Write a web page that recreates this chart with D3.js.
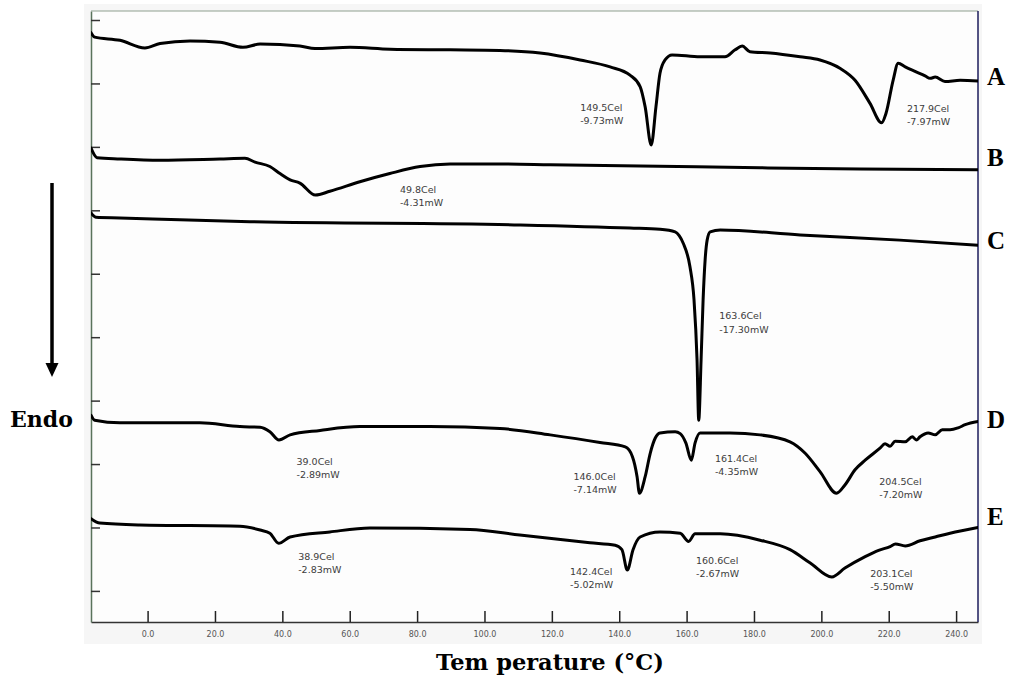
<!DOCTYPE html>
<html><head><meta charset="utf-8">
<script src="https://cdn.jsdelivr.net/npm/d3@7"></script>
<style>body{margin:0;background:#fff}svg{display:block}</style>
</head><body>
<svg id="chart" width="1010" height="679"></svg>
<script>
// Temperature (°C) vs heat flow (one unit = one y-axis division, endo down)
const seriesNames = ["A","B","C","D","E"];
const curveA = [[-16.8,-0.20],[-15.7,-0.27],[-8.2,-0.32],[-0.8,-0.44],[3.7,-0.37],[12.6,-0.33],[21.5,-0.35],[28.3,-0.43],[33.4,-0.38],[45.2,-0.41],[49.7,-0.45],[60.1,-0.43],[72.0,-0.46],[89.8,-0.47],[104.6,-0.48],[116.5,-0.52],[128.4,-0.63],[137.3,-0.74],[143.2,-0.87],[146.2,-1.05],[147.7,-1.37],[149.5,-1.97],[150.9,-1.37],[152.1,-0.84],[153.6,-0.63],[155.7,-0.55],[164.0,-0.58],[171.4,-0.58],[174.4,-0.47],[176.5,-0.41],[178.8,-0.50],[184.8,-0.52],[193.7,-0.58],[199.6,-0.63],[205.5,-0.76],[210.0,-0.95],[214.4,-1.31],[217.9,-1.62],[219.2,-1.47],[221.3,-0.95],[222.8,-0.68],[224.9,-0.74],[227.8,-0.81],[230.8,-0.88],[232.3,-0.92],[233.8,-0.90],[236.7,-0.97],[241.2,-0.95],[246.5,-0.96]];
const curveB = [[-16.8,-2.02],[-15.0,-2.17],[-8.2,-2.19],[3.7,-2.21],[21.5,-2.19],[28.9,-2.18],[31.9,-2.24],[36.3,-2.31],[39.3,-2.42],[42.3,-2.52],[45.2,-2.57],[49.8,-2.76],[54.1,-2.70],[63.0,-2.55],[71.9,-2.42],[80.9,-2.31],[89.8,-2.27],[104.6,-2.27],[119.5,-2.28],[146.2,-2.30],[181.8,-2.33],[211.5,-2.35],[246.5,-2.36]];
const curveC = [[-16.8,-3.04],[-15.3,-3.11],[-8.2,-3.12],[9.6,-3.15],[30.4,-3.18],[110.5,-3.23],[143.2,-3.28],[152.1,-3.30],[156.6,-3.34],[157.8,-3.40],[159.0,-3.52],[161.0,-3.89],[162.2,-4.41],[163.1,-5.36],[163.6,-6.31],[164.3,-5.36],[164.9,-4.41],[165.5,-3.78],[166.1,-3.47],[167.0,-3.34],[170.0,-3.31],[193.7,-3.39],[223.3,-3.47],[246.5,-3.55]];
const curveD = [[-16.8,-6.23],[-15.7,-6.31],[-8.2,-6.35],[15.5,-6.35],[27.4,-6.41],[33.4,-6.42],[36.3,-6.49],[39.0,-6.62],[42.3,-6.54],[51.2,-6.47],[63.0,-6.41],[83.8,-6.41],[104.6,-6.44],[119.5,-6.54],[134.3,-6.66],[141.8,-6.73],[143.9,-6.88],[145.3,-7.20],[146.0,-7.46],[147.7,-7.20],[149.2,-6.83],[150.7,-6.59],[152.1,-6.51],[156.6,-6.49],[158.1,-6.52],[159.8,-6.67],[161.4,-6.94],[162.5,-6.67],[164.0,-6.51],[172.9,-6.51],[181.8,-6.54],[190.7,-6.65],[195.2,-6.83],[199.6,-7.12],[204.5,-7.46],[207.0,-7.33],[210.0,-7.09],[213.0,-6.94],[217.4,-6.75],[218.9,-6.68],[220.4,-6.72],[221.9,-6.64],[224.9,-6.65],[227.0,-6.57],[228.2,-6.62],[229.3,-6.57],[231.7,-6.51],[233.8,-6.54],[235.9,-6.46],[238.2,-6.46],[240.6,-6.43],[242.7,-6.38],[246.5,-6.33]];
const curveE = [[-16.8,-7.86],[-14.2,-7.93],[-2.3,-7.96],[27.4,-7.98],[33.4,-8.04],[36.3,-8.09],[38.9,-8.25],[42.3,-8.15],[54.1,-8.07],[66.0,-8.01],[95.7,-8.03],[110.5,-8.12],[131.3,-8.24],[138.8,-8.28],[140.8,-8.35],[142.4,-8.67],[144.1,-8.35],[146.2,-8.15],[152.1,-8.07],[158.1,-8.09],[160.6,-8.22],[162.5,-8.10],[170.0,-8.10],[181.8,-8.20],[190.7,-8.35],[196.7,-8.56],[203.1,-8.78],[207.0,-8.64],[213.0,-8.46],[217.0,-8.36],[220.4,-8.30],[222.0,-8.26],[224.9,-8.29],[229.3,-8.21],[233.8,-8.15],[238.2,-8.09],[246.5,-8.00]];
const curves = [curveA, curveB, curveC, curveD, curveE];
const xTicks = [0,20,40,60,80,100,120,140,160,180,200,220,240];
const yTicks = [0,-1,-2,-3,-4,-5,-6,-7,-8,-9];
const peakLabels = [
  {temp:"149.5Cel", power:"-9.73mW", at:[128.4,-1.43]},
  {temp:"217.9Cel", power:"-7.97mW", at:[225.4,-1.45]},
  {temp:"49.8Cel", power:"-4.31mW", at:[74.9,-2.73]},
  {temp:"163.6Cel", power:"-17.30mW", at:[169.7,-4.72]},
  {temp:"39.0Cel", power:"-2.89mW", at:[44.2,-7.01]},
  {temp:"146.0Cel", power:"-7.14mW", at:[126.4,-7.25]},
  {temp:"161.4Cel", power:"-4.35mW", at:[168.4,-6.97]},
  {temp:"204.5Cel", power:"-7.20mW", at:[217.2,-7.33]},
  {temp:"38.9Cel", power:"-2.83mW", at:[44.7,-8.51]},
  {temp:"142.4Cel", power:"-5.02mW", at:[125.4,-8.75]},
  {temp:"160.6Cel", power:"-2.67mW", at:[162.8,-8.57]},
  {temp:"203.1Cel", power:"-5.50mW", at:[214.5,-8.78]}
];
const xTitle = "Tem perature (°C)";
const sideLabel = "Endo";

const svg = d3.select("#chart");
const m = {left:91, right:978, top:11, bottom:622};
const x = d3.scaleLinear().domain([-16.8,246.5]).range([m.left,m.right]);
const y = d3.scaleLinear().domain([0.142,-9.49]).range([m.top,m.bottom]);

svg.append("rect").attr("width",1010).attr("height",679).attr("fill","#ffffff");
svg.append("rect").attr("x",84).attr("y",4).attr("width",898).attr("height",640).attr("fill","#f6f6f6");
svg.append("rect").attr("x",m.left).attr("y",m.top).attr("width",m.right-m.left).attr("height",m.bottom-m.top).attr("fill","#fdfdfd");

svg.append("defs").append("clipPath").attr("id","clip")
  .append("rect").attr("x",m.left).attr("y",m.top).attr("width",m.right-m.left).attr("height",m.bottom-m.top);

// axes
const gx = svg.append("g").attr("transform",`translate(0,${m.bottom})`)
  .call(d3.axisBottom(x).tickValues(xTicks).tickSizeInner(-11).tickSizeOuter(0).tickPadding(9).tickFormat(d3.format(".1f")));
gx.select(".domain").attr("stroke","#333").attr("stroke-width",1.5);
gx.selectAll(".tick line").attr("stroke","#222").attr("stroke-width",1.5);
gx.selectAll(".tick text").attr("font-family","DejaVu Sans").attr("font-size",8).attr("fill","#555");

const gy = svg.append("g").attr("transform",`translate(${m.left},0)`)
  .call(d3.axisLeft(y).tickValues(yTicks).tickSizeInner(-9).tickSizeOuter(0).tickFormat(""));
gy.select(".domain").attr("stroke","#5a735c").attr("stroke-width",1.5);
gy.selectAll(".tick line").attr("stroke","#333").attr("stroke-width",1.5);

svg.append("line").attr("x1",m.left).attr("x2",m.right).attr("y1",m.top).attr("y2",m.top).attr("stroke","#8fa090").attr("stroke-width",1);
svg.append("line").attr("x1",m.right).attr("x2",m.right).attr("y1",m.top).attr("y2",m.bottom).attr("stroke","#1c1c5c").attr("stroke-width",1.5);

// curves
const line = d3.line().x(d=>x(d[0])).y(d=>y(d[1])).curve(d3.curveMonotoneX);
svg.append("g").attr("clip-path","url(#clip)").selectAll("path").data(curves).join("path")
  .attr("d",line).attr("fill","none").attr("stroke","#000").attr("stroke-width",3)
  .attr("stroke-linejoin","round").attr("stroke-linecap","round");

// peak annotations
const ann = svg.append("g").attr("font-family","DejaVu Sans").attr("font-size",9.5).attr("fill","#3c3c3c");
peakLabels.forEach(p=>{
  const t = ann.append("text").attr("x",x(p.at[0])).attr("y",y(p.at[1]));
  t.append("tspan").attr("x",x(p.at[0])).text(p.temp);
  t.append("tspan").attr("x",x(p.at[0])).attr("dy",13.3).text(p.power);
});

// series letters
const letterY = [85,166,249,428,525];
svg.append("g").attr("font-family","Liberation Serif").attr("font-weight","bold").attr("font-size",25).attr("fill","#000")
  .selectAll("text").data(seriesNames).join("text")
  .attr("x",987).attr("y",(d,i)=>letterY[i]).text(d=>d);

// axis title
svg.append("text").attr("x",550).attr("y",670).attr("text-anchor","middle")
  .attr("font-family","DejaVu Serif").attr("font-weight","bold").attr("font-size",22.5).attr("fill","#000").text(xTitle);

// Endo arrow
svg.append("line").attr("x1",52).attr("x2",52).attr("y1",183).attr("y2",366).attr("stroke","#000").attr("stroke-width",3.5);
svg.append("path").attr("d","M45.5,363 L58.5,363 L52,377 Z").attr("fill","#000");
svg.append("text").attr("x",10).attr("y",427).attr("font-family","DejaVu Serif").attr("font-weight","bold")
  .attr("font-size",22).attr("fill","#000").text(sideLabel);
</script>
</body></html>
